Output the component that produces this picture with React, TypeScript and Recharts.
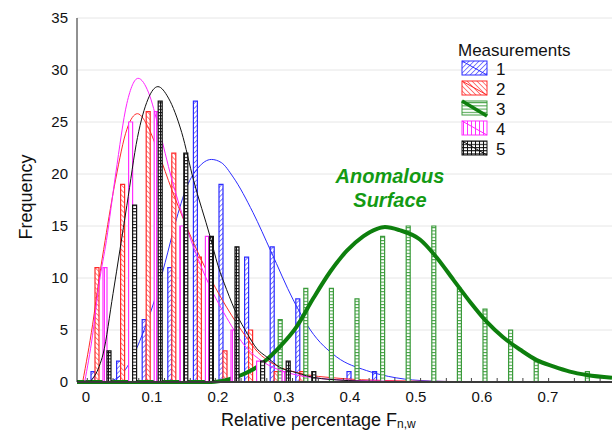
import {
  ComposedChart,
  Bar,
  Line,
  XAxis,
  YAxis,
  CartesianGrid,
  Legend,
} from 'recharts';

// Histogram bins (centre of each bin, relative percentage)
const binCenters = [
  0.021, 0.06, 0.099, 0.138, 0.177, 0.215, 0.254, 0.293, 0.332, 0.371,
  0.409, 0.448, 0.487, 0.525, 0.564, 0.603, 0.641, 0.68, 0.719, 0.758,
];

// Counts per bin for each measurement
const freq1 = [1, 2, 6, 11, 27, 19, 12, 13, 8, 0, 1, 1, 0, 0, 0, 0, 0, 0, 0, 0];
const freq2 = [11, 19, 26, 22, 12, 3, 5, 1, 1, 0, 0, 0, 0, 0, 0, 0, 0, 0, 0, 0];
const freq3 = [0, 0, 0, 0, 0, 0, 0, 6, 9, 9, 8, 14, 15, 15, 9, 7, 5, 2, 0, 1];
const freq4 = [11, 25, 26, 15, 14, 5, 2, 1, 0, 0, 0, 0, 0, 0, 0, 0, 0, 0, 0, 0];
const freq5 = [3, 17, 27, 22, 14, 13, 2, 2, 1, 0, 0, 0, 0, 0, 0, 0, 0, 0, 0, 0];

// Fitted distribution curves, [relative percentage, frequency]
const fit1 = [
  [0.03, 0], [0.05, 0.5], [0.07, 2.3], [0.085, 4.5], [0.102, 7.5], [0.12, 11.5],
  [0.135, 15.2], [0.153, 18.8], [0.17, 20.6], [0.19, 21.4], [0.205, 21.1],
  [0.223, 19.7], [0.253, 16.3], [0.28, 12.6], [0.314, 7.9], [0.34, 5.0],
  [0.38, 2.4], [0.425, 1.1], [0.47, 0.4], [0.52, 0.1], [0.6, 0], [0.797, 0],
];
const fit2 = [
  [-0.005, 0], [0.01, 5.5], [0.02, 10], [0.029, 13.6], [0.045, 19.5],
  [0.062, 24.3], [0.078, 25.8], [0.095, 24.4], [0.11, 22], [0.13, 18.5],
  [0.15, 15.3], [0.17, 12.4], [0.19, 9.8], [0.213, 7.2], [0.243, 4.3],
  [0.26, 2.9], [0.285, 1.7], [0.32, 0.9], [0.385, 0.35], [0.45, 0.15],
  [0.55, 0.05], [0.797, 0],
];
const fit3 = [
  [-0.0136, 0], [0.19, 0], [0.213, 0.2], [0.233, 0.6], [0.25, 1.1],
  [0.269, 1.9], [0.294, 3.4], [0.319, 5.3], [0.344, 8.0], [0.37, 10.6],
  [0.395, 12.6], [0.42, 14.0], [0.44, 14.7], [0.453, 14.9], [0.475, 14.6],
  [0.506, 13.7], [0.531, 12.0], [0.557, 9.8], [0.582, 7.7], [0.607, 5.8],
  [0.632, 4.3], [0.658, 3.1], [0.683, 2.1], [0.708, 1.5], [0.733, 1.0],
  [0.759, 0.67], [0.797, 0.4],
];
const fit4 = [
  [-0.002, 0], [0.01, 4.5], [0.02, 9.5], [0.031, 13.6], [0.045, 20],
  [0.062, 26.8], [0.079, 29.2], [0.095, 27.8], [0.11, 24.5], [0.13, 19.5],
  [0.15, 15.3], [0.17, 11.8], [0.19, 8.9], [0.213, 6.2], [0.243, 3.3],
  [0.268, 1.95], [0.3, 1.0], [0.33, 0.55], [0.37, 0.26], [0.45, 0.08],
  [0.55, 0.02], [0.797, 0],
];
const fit5 = [
  [0.006, 0], [0.02, 1.5], [0.026, 2.7], [0.041, 8.5], [0.062, 17],
  [0.078, 23.5], [0.094, 27.2], [0.109, 28.4], [0.125, 27.3], [0.145, 24],
  [0.163, 19.4], [0.188, 14], [0.2, 11.2], [0.213, 8.9], [0.23, 6.3],
  [0.243, 4.8], [0.259, 3.2], [0.274, 2.4], [0.294, 1.4], [0.319, 0.9],
  [0.334, 0.6], [0.38, 0.2], [0.45, 0.05], [0.797, 0],
];

// Axis ticks
const yTicks = [0, 5, 10, 15, 20, 25, 30, 35];
const xLabelTicks = [0, 0.1, 0.2, 0.3, 0.4, 0.5, 0.6, 0.7];
const binEdges = [
  0.002, 0.041, 0.08, 0.119, 0.158, 0.196, 0.235, 0.274, 0.313, 0.352, 0.39,
  0.429, 0.468, 0.507, 0.546, 0.584, 0.623, 0.662, 0.701, 0.74, 0.779,
];

const measurementNames = ['1', '2', '3', '4', '5'];

const FONT = '"Liberation Sans", Arial, sans-serif';

const series = [
  { key: 'm1', freq: freq1, fit: fit1, pattern: 'hatch-1', bar: '#2c2cff', line: '#2c2cff', lineWidth: 1 },
  { key: 'm2', freq: freq2, fit: fit2, pattern: 'hatch-2', bar: '#ff2a2a', line: '#ff2a2a', lineWidth: 1 },
  { key: 'm3', freq: freq3, fit: fit3, pattern: 'hatch-3', bar: '#3b9b3b', line: '#0d7f0d', lineWidth: 4 },
  { key: 'm4', freq: freq4, fit: fit4, pattern: 'hatch-4', bar: '#ff30ff', line: '#ff22ff', lineWidth: 1 },
  { key: 'm5', freq: freq5, fit: fit5, pattern: 'hatch-5', bar: '#111111', line: '#111111', lineWidth: 1 },
];

const binRows = binCenters.map((bin, i) => {
  const row: Record<string, number> = { bin };
  series.forEach((s) => {
    row[s.key] = s.freq[i];
  });
  return row;
});

const toPoints = (pairs: number[][]) => pairs.map(([x, y]) => ({ x, y }));

function HatchPatterns() {
  return (
    <defs>
      <pattern id="hatch-1" patternUnits="userSpaceOnUse" width="3.5" height="3.5" patternTransform="rotate(45)">
        <rect width="3.5" height="3.5" fill="#fff" />
        <line x1="0" y1="0" x2="0" y2="3.5" stroke="#2c2cff" strokeWidth="1.2" />
      </pattern>
      <pattern id="hatch-2" patternUnits="userSpaceOnUse" width="3.5" height="3.5" patternTransform="rotate(-45)">
        <rect width="3.5" height="3.5" fill="#fff" />
        <line x1="0" y1="0" x2="0" y2="3.5" stroke="#ff2a2a" strokeWidth="1.2" />
      </pattern>
      <pattern id="hatch-3" patternUnits="userSpaceOnUse" width="4" height="3.2">
        <rect width="4" height="3.2" fill="#fff" />
        <line x1="0" y1="0.5" x2="4" y2="0.5" stroke="#3b9b3b" strokeWidth="1" />
      </pattern>
      <pattern id="hatch-4" patternUnits="userSpaceOnUse" width="4" height="4">
        <rect width="4" height="4" fill="#fff" />
        <line x1="0.5" y1="0" x2="0.5" y2="4" stroke="#ff30ff" strokeWidth="1" />
      </pattern>
      <pattern id="hatch-5" patternUnits="userSpaceOnUse" width="4" height="3.2">
        <rect width="4" height="3.2" fill="#fff" />
        <line x1="0" y1="0.5" x2="4" y2="0.5" stroke="#111" strokeWidth="1.1" />
        <line x1="0.5" y1="0" x2="0.5" y2="3.2" stroke="#111" strokeWidth="1" />
      </pattern>
    </defs>
  );
}

// x tick: labelled values get text, bin edges get a short inward mark
function ValueTick(props: any) {
  const { x, y, payload } = props;
  const v = payload.value;
  if (xLabelTicks.includes(v)) {
    return (
      <text x={x} y={y + 20} textAnchor="middle" fontSize={15} fontFamily={FONT} fill="#111">
        {String(v)}
      </text>
    );
  }
  return <line x1={x} x2={x} y1={y - 1} y2={y - 4} stroke="#444" strokeWidth={1} />;
}

function XTitle() {
  return (
    <text x={221} y={426} fontSize={18} fontFamily={FONT} fill="#111">
      Relative percentage F
      <tspan fontSize={12} dy={2}>n,w</tspan>
    </text>
  );
}

function YTitle() {
  return (
    <text
      x={26}
      y={197}
      transform="rotate(-90, 26, 197)"
      textAnchor="middle"
      dominantBaseline="central"
      fontSize={18}
      fontFamily={FONT}
      fill="#111"
    >
      Frequency
    </text>
  );
}

function MeasurementsLegend() {
  return (
    <svg width={150} height={130} style={{ display: 'block' }}>
      <text x={3} y={21} fontSize={17} fontFamily={FONT} fill="#111">
        Measurements
      </text>
      {series.map((s, i) => (
        <g key={s.key}>
          <rect x={7} y={26 + 20 * i} width={25} height={14} fill={`url(#${s.pattern})`} stroke={s.bar} strokeWidth={1} />
          <line
            x1={7}
            y1={26 + 20 * i}
            x2={32}
            y2={40 + 20 * i + (s.lineWidth > 1 ? 1 : 0)}
            stroke={s.line}
            strokeWidth={s.lineWidth > 1 ? 3.5 : 1}
          />
          <text x={41} y={40 + 20 * i} fontSize={17} fontFamily={FONT} fill="#111">
            {measurementNames[i]}
          </text>
        </g>
      ))}
    </svg>
  );
}

export default function App() {
  return (
    <div style={{ position: 'absolute', left: 0, top: 0, width: 614, height: 432, background: '#fff' }}>
      <ComposedChart
        width={614}
        height={432}
        data={binRows}
        margin={{ top: 18, right: 2, bottom: 0, left: 17 }}
        barGap={0}
      >
        <HatchPatterns />
        <CartesianGrid xAxisId="val" vertical={false} stroke="#e6e6e6" />
        <XAxis xAxisId="bin" dataKey="bin" type="category" hide height={0} padding={{ left: 11, right: 12 }} />
        <XAxis
          xAxisId="val"
          dataKey="x"
          type="number"
          domain={[-0.0136, 0.797]}
          allowDataOverflow
          ticks={[...xLabelTicks, ...binEdges].sort((a, b) => a - b)}
          interval={0}
          tickLine={false}
          tickSize={0}
          tickMargin={0}
          tick={<ValueTick />}
          axisLine={{ stroke: '#3a3a3a', strokeWidth: 2 }}
          height={50}
          label={{ content: <XTitle /> }}
        />
        <YAxis
          domain={[0, 35]}
          ticks={yTicks}
          interval={0}
          width={60}
          tickLine={false}
          tickSize={0}
          tickMargin={9}
          axisLine={{ stroke: '#222' }}
          tick={{ fontSize: 15, fontFamily: FONT, fill: '#111' }}
          label={{ content: <YTitle /> }}
        />
        {series.flatMap((s, i) => [
          <Bar
            key={`${s.key}-bar`}
            xAxisId="bin"
            dataKey={s.key}
            barSize={4}
            fill={`url(#${s.pattern})`}
            stroke={s.bar}
            strokeWidth={1.2}
            isAnimationActive={false}
            zIndex={300 + i * 2}
          />,
          <Line
            key={`${s.key}-fit`}
            xAxisId="val"
            data={toPoints(s.fit)}
            dataKey="y"
            type="monotone"
            stroke={s.line}
            strokeWidth={s.lineWidth}
            dot={false}
            activeDot={false}
            isAnimationActive={false}
            zIndex={301 + i * 2}
          />,
        ])}
        <Legend
          layout="vertical"
          align="center"
          verticalAlign="middle"
          wrapperStyle={{ left: 455, top: 35, width: 150, height: 130 }}
          content={() => <MeasurementsLegend />}
        />
      </ComposedChart>
      <div
        style={{
          position: 'absolute',
          left: 290,
          top: 164,
          width: 200,
          textAlign: 'center',
          fontFamily: FONT,
          fontSize: 20,
          lineHeight: '24px',
          fontWeight: 'bold',
          fontStyle: 'italic',
          color: '#139a13',
        }}
      >
        Anomalous
        <br />
        Surface
      </div>
    </div>
  );
}
